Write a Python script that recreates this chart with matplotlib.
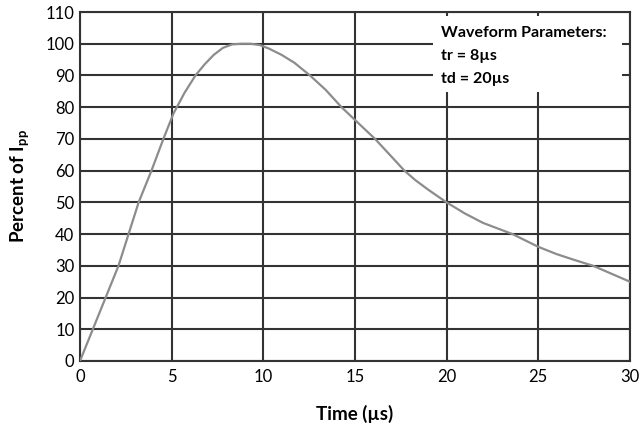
import matplotlib
matplotlib.use('Agg')
import matplotlib.pyplot as plt
from matplotlib.patches import Rectangle

plt.rcParams['font.family'] = ['Lato', 'DejaVu Sans']
plt.rcParams['mathtext.fontset'] = 'custom'
plt.rcParams['mathtext.rm'] = 'Lato'
plt.rcParams['mathtext.bf'] = 'Lato:bold'

# Waveform (time in us, percent of Ipp)
time_us = [0, 0.7, 1.4, 2.1, 2.65, 3.2, 3.9, 4.55, 5.1, 5.7, 6.3, 6.8, 7.3, 7.8,
           8.3, 8.8, 9.3, 9.8, 10.3, 11, 11.7, 12.55, 13.4, 14.27, 15, 16.1, 17,
           17.7, 18.3, 19, 20, 21, 22, 23.6, 25, 26, 27, 28, 29, 30]
percent = [0, 10, 20, 30, 40, 50, 60, 70, 78, 84.5, 90, 93.5, 96.5, 98.7,
           99.8, 100, 100, 99.6, 98.5, 96.5, 94, 90, 85.5, 80, 76, 70, 64.4,
           60, 57, 54, 50, 46.5, 43.5, 40, 36, 33.7, 31.8, 30, 27.5, 25]

x_ticks = [0, 5, 10, 15, 20, 25, 30]
y_ticks = list(range(0, 111, 10))
param_lines = ['Waveform Parameters:', 'tr = 8\u00b5s', 'td = 20\u00b5s']

fig = plt.figure(figsize=(6.4, 4.37), dpi=100)
ax = fig.add_axes([0.125, 0.174, 0.859, 0.7985])

grid_color = '#333333'
for xv in x_ticks:
    ax.axvline(xv, color=grid_color, lw=1.5, zorder=1)
for yv in y_ticks:
    ax.axhline(yv, color=grid_color, lw=1.5, zorder=1)

ax.plot(time_us, percent, color='#8c8c8c', lw=1.6, zorder=3)

ax.set_xlim(0, 30)
ax.set_ylim(0, 110)
ax.set_xticks(x_ticks)
ax.set_yticks(y_ticks)
ax.tick_params(length=0, labelsize=12, colors='black')
ax.tick_params(axis='x', pad=6)
ax.tick_params(axis='y', pad=4)
for s in ax.spines.values():
    s.set_color(grid_color)
    s.set_linewidth(1.5)

ax.set_xlabel('Time (\u00b5s)', fontsize=13.5, fontweight='bold', labelpad=14)
ax.set_ylabel(r'Percent of I$_\mathbf{pp}$', fontsize=13.5, fontweight='bold', labelpad=10)

# white box holding the waveform parameters
ax.add_patch(Rectangle((0.642, 0.771), 0.343, 0.218, transform=ax.transAxes,
                       facecolor='white', edgecolor='none', zorder=4))
for yy, line in zip([0.940, 0.873, 0.808], param_lines):
    ax.text(0.656, yy, line, transform=ax.transAxes, fontsize=11.5,
            fontweight='bold', va='center', ha='left', zorder=5)

fig.savefig('out.png', dpi=100)
